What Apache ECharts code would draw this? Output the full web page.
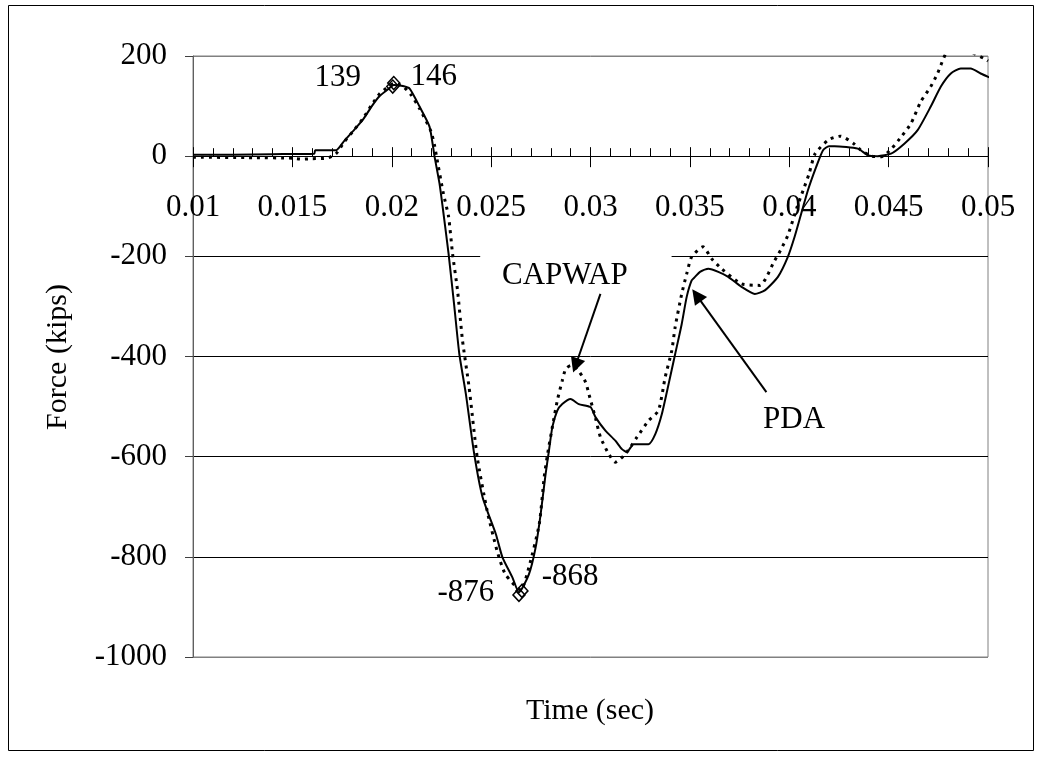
<!DOCTYPE html>
<html><head><meta charset="utf-8">
<script src="https://cdn.jsdelivr.net/npm/echarts@6/dist/echarts.min.js"></script>
<style>html,body{margin:0;padding:0;background:#fff}#c{width:1041px;height:757px}</style>
</head><body><div id="c"></div>
<script>
// ---- data ----
const pdaTime = [0.0100,0.0120,0.0140,0.0161,0.01615,0.0172,0.0176,0.01805,0.01855,0.0190,0.01939,0.01989,0.0201,0.02056,0.0209,0.0214,0.0219,0.02215,0.0224,0.02256,0.02286,0.02315,0.0234,0.02373,0.02415,0.02457,0.02524,0.02557,0.02607,0.0264,0.0269,0.02724,0.02749,0.02774,0.02791,0.02808,0.02833,0.02858,0.0290,0.02941,0.0300,0.03025,0.03075,0.03125,0.03158,0.03183,0.03217,0.03292,0.03326,0.03359,0.03393,0.03426,0.03459,0.03484,0.03509,0.03526,0.03551,0.03593,0.03643,0.03693,0.0376,0.03827,0.03877,0.03943,0.03993,0.04027,0.0406,0.04094,0.04136,0.0417,0.0420,0.04228,0.04345,0.04395,0.04445,0.04512,0.04579,0.04646,0.04712,0.04763,0.04813,0.04863,0.04913,0.04963,0.0502];
const pdaForce = [3,3,4,5,12,12,30,50,73,100,120,136,142,140,135,99,59,0,-54,-101,-195,-301,-395,-475,-595,-681,-755,-801,-841,-871,-835,-781,-715,-635,-588,-541,-508,-495,-485,-495,-501,-521,-548,-568,-585,-591,-575,-575,-555,-515,-455,-395,-335,-281,-248,-241,-231,-225,-231,-241,-261,-275,-268,-241,-201,-161,-115,-68,-21,12,20,20,15,2,0,5,25,52,99,139,165,175,175,165,155];
const capTime = [0.0100,0.0130,0.0150,0.0155,0.0160,0.01674,0.0172,0.0176,0.0181,0.01855,0.0190,0.0194,0.0198,0.0201,0.02055,0.02098,0.0214,0.02198,0.02215,0.02225,0.0226,0.02286,0.02306,0.02331,0.02356,0.02389,0.0243,0.0248,0.0253,0.02572,0.02649,0.0269,0.02742,0.02767,0.02784,0.02808,0.02833,0.02858,0.02875,0.0290,0.02933,0.02975,0.02992,0.03025,0.0305,0.03092,0.03125,0.03175,0.03234,0.03292,0.03342,0.03376,0.03409,0.03426,0.03459,0.03484,0.03509,0.03566,0.0361,0.0366,0.0376,0.03852,0.03927,0.0396,0.03993,0.0404,0.0407,0.0410,0.0413,0.04199,0.04258,0.04325,0.0436,0.04415,0.04465,0.04515,0.04566,0.04612,0.04662,0.04712,0.04746,0.04763,0.04796,0.0491,0.0498,0.0500];
const capForce = [-2,-3,-4,-6,-5,-4,5,28,52,75,103,125,138,145,140,122,95,49,22,0,-75,-121,-195,-268,-368,-461,-601,-708,-788,-835,-866,-821,-735,-641,-595,-541,-488,-448,-425,-418,-425,-451,-475,-523,-561,-595,-611,-595,-561,-528,-508,-441,-388,-341,-275,-235,-201,-181,-205,-225,-255,-258,-208,-185,-158,-101,-68,-35,5,33,40,25,12,0,-1,15,40,65,109,139,165,182,207,207,195,190];
const markerTime = [0.02005,0.0201,0.0264,0.02655];
const markerForce = [139,146,-876,-868];
const markerText = ['139','146','-876','-868'];
const xTickLabels = ['0.01','0.015','0.02','0.025','0.03','0.035','0.04','0.045','0.05'];
const yTickLabels = ['-1000','-800','-600','-400','-200','0','200'];
const noteTexts = ['CAPWAP','PDA'];
const noteAnchors = [[0.02871,-238],[0.04024,-526]];
const arrowFrom = [[0.0305,-275],[0.03885,-471]];
const arrowTo = [[0.02925,-418],[0.03534,-278]];
const xTitle = 'Time (sec)';
const yTitle = 'Force (kips)';

// ---- chart ----
const FONT = "'Liberation Serif','Times New Roman',serif";
const chart = echarts.init(document.getElementById('c'), null, {renderer:'canvas'});
const zip = (a,b) => a.map((v,i)=>[v,b[i]]);
const X0 = 0.01, X1 = 0.05, XI = 0.005, Y0 = -1000, Y1 = 200, YI = 200;
const G = {left:193,right:53,top:56,bottom:100};
const plotH = 757 - G.top - G.bottom;
const zeroOffset = -plotH * (0 - Y0) / (Y1 - Y0);
const markerLabelCfg = [
  {position:'left', distance:25, offset:[0,-9]},
  {position:'right', distance:10, offset:[0,-6]},
  {position:'left', distance:18, offset:[0,-2]},
  {position:'right', distance:13, offset:[0,-14]}
];
const option = {
  animation:false,
  backgroundColor:'#fff',
  grid:Object.assign({show:true,borderColor:'#808080',borderWidth:1,containLabel:false},G),
  xAxis:[{
    type:'value',min:X0,max:X1,interval:XI,position:'bottom',offset:zeroOffset,
    axisLine:{show:true,onZero:false,lineStyle:{color:'#000',width:1}},
    axisTick:{show:true,inside:true,length:9,lineStyle:{color:'#000'}},
    minorTick:{show:true,splitNumber:5,length:8,lineStyle:{color:'#000'}},
    axisLabel:{margin:36,fontSize:31,fontFamily:FONT,color:'#000',
      formatter:v=>xTickLabels[Math.round((v-X0)/XI)] ?? ''},
    splitLine:{show:false}
  },{
    type:'value',min:X0,max:X1,interval:XI,position:'bottom',offset:zeroOffset,
    axisLine:{show:false,onZero:false},
    axisTick:{show:true,inside:false,length:11,lineStyle:{color:'#000'}},
    axisLabel:{show:false},splitLine:{show:false}
  }],
  yAxis:{
    type:'value',min:Y0,max:Y1,interval:YI,
    axisLine:{show:true,onZero:false,lineStyle:{color:'#606060'}},
    axisTick:{show:true,length:8,lineStyle:{color:'#404040'}},
    axisLabel:{margin:26,fontSize:31,fontFamily:FONT,color:'#000',
      formatter:v=>yTickLabels[Math.round((v-Y0)/YI)] ?? ''},
    splitLine:{show:true,lineStyle:{color:['#808080','#000','#000','#000','#000','#000','#808080'],width:1}}
  },
  series:[
    {name:'CAPWAP',type:'line',data:zip(capTime,capForce),showSymbol:false,z:3,smooth:0.2,
      lineStyle:{color:'#000',width:3,type:[3,5]}},
    {name:'PDA',type:'line',data:zip(pdaTime,pdaForce),showSymbol:false,z:4,smooth:0.2,
      lineStyle:{color:'#000',width:2},
      markLine:{silent:true,symbol:['none','triangle'],symbolSize:15,
        label:{show:false},lineStyle:{color:'#000',width:2,type:'solid'},
        emphasis:{disabled:true},
        data:arrowFrom.map((f,i)=>[{coord:f},{coord:arrowTo[i]}])}},
    {name:'markers',type:'scatter',z:6,symbol:'diamond',symbolSize:[12,13],
      itemStyle:{color:'rgba(0,0,0,0)',borderColor:'#000',borderWidth:1.5,opacity:1},
      label:{show:true,fontSize:31,fontFamily:FONT,color:'#000',opacity:1,textBorderWidth:0,formatter:p=>markerText[p.dataIndex]},
      data:markerTime.map((t,i)=>({value:[t,markerForce[i]],label:markerLabelCfg[i]}))}
  ]
};
chart.setOption(option);
const px = p => chart.convertToPixel({xAxisIndex:0,yAxisIndex:0}, p);
const b1 = px([0.02445,-168]), b2 = px([0.03408,-298]);
const graphics = [
  {type:'rect',z:1,silent:true,shape:{x:8.5,y:5.5,width:1025,height:745},style:{fill:null,stroke:'#000',lineWidth:1}},
  {type:'rect',z:1,silent:true,shape:{x:b1[0],y:b1[1],width:b2[0]-b1[0],height:b2[1]-b1[1]},style:{fill:'#fff'}},
  {type:'text',z:10,silent:true,x:590,y:711,style:{text:xTitle,font:"30px "+FONT,fill:'#000',align:'center',verticalAlign:'middle'}},
  {type:'text',z:10,silent:true,x:58,y:357,rotation:Math.PI/2,style:{text:yTitle,font:"30px "+FONT,fill:'#000',align:'center',verticalAlign:'middle'}}
];
noteTexts.forEach((t,i)=>{
  const p = px(noteAnchors[i]);
  graphics.push({type:'text',z:10,silent:true,x:p[0],y:p[1],style:{text:t,font:"31px "+FONT,fill:'#000',align:'center',verticalAlign:'middle'}});
});
chart.setOption({graphic:graphics});
</script></body></html>
